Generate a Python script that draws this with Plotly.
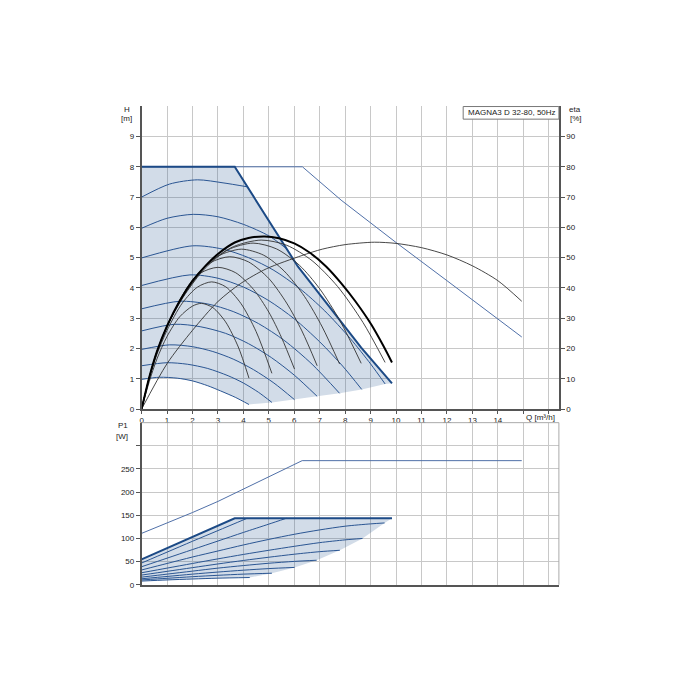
import plotly.graph_objects as go

# ---------------- data ----------------
# Upper chart: head H [m] vs flow Q [m3/h]
max_q = [0, 3.66, 4.9, 6.14, 6.8, 7.71, 8.63, 9.84]
max_h = [8.0, 8.0, 6.35, 4.71, 4.0, 3.02, 2.03, 0.85]

thin_q = [0, 6.32, 7.84, 10.0, 12.0, 14.0, 14.94]
thin_h = [8.0, 8.0, 6.9, 5.5, 4.24, 2.98, 2.38]

s1_q = [0, 0.7, 1.4, 2.0, 2.6, 3.1, 3.7, 4.22]
s1_h = [0.98, 1.05, 1.02, 0.93, 0.77, 0.6, 0.38, 0.15]
s2_q = [0, 1.0, 1.8, 2.6, 3.4, 4.0, 4.6, 5.12]
s2_h = [1.43, 1.53, 1.48, 1.34, 1.1, 0.86, 0.55, 0.22]
s3_q = [0, 1.1, 2.0, 2.8, 3.6, 4.4, 5.2, 6.01]
s3_h = [1.97, 2.12, 2.06, 1.9, 1.65, 1.3, 0.86, 0.31]
s4_q = [0, 1.3, 2.3, 3.3, 4.2, 5.1, 6.0, 6.9]
s4_h = [2.58, 2.8, 2.72, 2.5, 2.16, 1.7, 1.12, 0.42]
s5_q = [0, 1.5, 2.6, 3.6, 4.6, 5.6, 6.7, 7.78]
s5_h = [3.31, 3.56, 3.47, 3.22, 2.82, 2.27, 1.48, 0.52]
s6_q = [0, 1.9, 3.0, 4.0, 5.0, 6.0, 7.0, 7.9, 8.65]
s6_h = [4.08, 4.43, 4.32, 4.03, 3.58, 2.98, 2.22, 1.42, 0.65]
s7_q = [0, 2.0, 3.2, 4.2, 5.2, 6.2, 7.2, 8.2, 9.0, 9.57]
s7_h = [4.99, 5.39, 5.28, 5.0, 4.58, 3.99, 3.24, 2.33, 1.49, 0.83]
s8_q = [0, 1.0, 2.03, 3.0, 4.0, 5.0, 5.69]
s8_h = [5.97, 6.3, 6.43, 6.35, 6.1, 5.72, 5.3]
s9_q = [0, 1.1, 2.2, 3.2, 4.15]
s9_h = [7.0, 7.43, 7.57, 7.47, 7.34]

# efficiency eta [%]
e1_q = [0, 0.3, 0.6, 1.0, 1.5, 2.0, 2.35, 2.8, 3.3, 3.8, 4.22]
e1_v = [0, 9, 16.5, 24, 30.5, 34, 34.9, 33.5, 28.8, 20.5, 10.2]
e2_q = [0, 0.3, 0.6, 1.0, 1.6, 2.2, 2.75, 3.3, 3.9, 4.5, 5.12]
e2_v = [0, 10, 18, 26, 35, 40.3, 42, 40.4, 34.9, 25.6, 11.8]
e3_q = [0, 0.3, 0.6, 1.0, 1.6, 2.3, 3.0, 3.7, 4.4, 5.0, 5.5, 6.01]
e3_v = [0, 10.2, 18.5, 27, 37.5, 44.8, 46.8, 45, 39.5, 32, 23.6, 13.2]
e4_q = [0, 0.3, 0.6, 1.0, 1.9, 2.7, 3.46, 4.2, 5.0, 5.7, 6.3, 6.9]
e4_v = [0, 10.3, 18.7, 27.2, 41.5, 48.3, 50.3, 48.6, 43.1, 35, 25.8, 14.3]
e5_q = [0, 0.3, 0.6, 1.0, 1.5, 2.2, 3.0, 3.92, 4.8, 5.6, 6.4, 7.1, 7.78]
e5_v = [0, 10.4, 18.8, 27.3, 35.5, 44.5, 50.5, 52.8, 50.8, 45.6, 37.2, 27.1, 14.9]
e6_q = [0, 0.3, 0.6, 1.0, 1.7, 2.5, 3.4, 4.38, 5.3, 6.2, 7.0, 7.8, 8.63]
e6_v = [0, 10.4, 18.9, 27.4, 37.8, 46.5, 52.6, 54.8, 52.9, 47.5, 39.7, 29.1, 15.1]
e7_q = [0, 0.3, 0.6, 1.0, 1.7, 2.6, 3.6, 4.7, 5.7, 6.7, 7.7, 8.7, 9.57]
e7_v = [0, 10.5, 19, 27.5, 38, 47.8, 53.6, 55.8, 54.1, 49, 40.5, 28.6, 15.4]
emax_q = [0, 0.3, 0.6, 1.0, 1.5, 2.0, 2.5, 3.0, 3.66, 4.2, 4.84, 5.4, 6.0, 6.6,
          7.25, 7.84, 8.4, 9.02, 9.5, 9.84]
emax_v = [0, 10.5, 19, 27.5, 35.8, 42.3, 47.2, 51.2, 55, 56.5, 57, 56.4, 54.7, 51.7,
          47.1, 41.6, 35.6, 28, 20.9, 15.4]
ethin_q = [0, 1.0, 2.0, 3.0, 3.9, 4.9, 6.3, 7.1, 8.0, 9.15, 10.0, 11.0, 12.0, 13.0,
           14.0, 14.94]
ethin_v = [0, 15, 26, 35.5, 41.5, 46.3, 50.7, 52.8, 54.3, 55.1, 54.7, 53.3, 50.9, 47.3,
           42.4, 35.6]

# Lower chart: power P1 [W]
pmax_q = [0, 1, 2, 3, 3.66, 9.84]
pmax_p = [55, 79.5, 104, 128, 143.6, 143.6]
pthin_q = [0, 1, 2, 3, 4.05, 5.0, 6.31, 14.94]
pthin_p = [111, 133, 156, 180, 208, 233, 268, 268]

p1_q = [0, 1, 2, 3, 4.25]
p1_p = [8, 10.5, 12.5, 14.3, 15.7]
p2_q = [0, 1, 2, 3, 4, 5.12]
p2_p = [10.5, 14, 17.5, 20.5, 23, 25]
p3_q = [0, 1, 2, 3, 4, 5, 6.01]
p3_p = [13, 18, 23, 27.5, 31.5, 35, 37.5]
p4_q = [0, 1, 2, 3, 4, 5, 6, 6.88]
p4_p = [16.5, 23, 29.5, 36, 41.5, 46.5, 50.5, 53]
p5_q = [0, 1, 2, 3, 4, 5, 6, 7, 7.79]
p5_p = [21, 29, 37, 45, 52.5, 59.5, 66, 71.5, 74.5]
p6_q = [0, 1, 2, 3, 4, 5, 6, 7, 8, 8.68]
p6_p = [26, 36, 46, 56, 65.5, 74.5, 83, 91, 97, 100]
p7_q = [0, 1, 2, 3, 4, 5, 6, 7, 8, 9, 9.55]
p7_p = [32, 46, 60, 73, 86, 98, 109, 118.5, 126.5, 131.5, 133.5]
p8_q = [0, 1, 2, 3, 4, 5, 5.69]
p8_p = [39, 57.5, 76, 94.5, 113, 131, 143.6]
p9_q = [0, 1, 2, 3, 4.15]
p9_p = [47, 70.5, 94, 117, 143.6]

x_ticks = list(range(0, 17))
x_labels = [str(i) for i in range(0, 15)] + ["", ""]
h_ticks = list(range(0, 10))
eta_ticks = list(range(0, 100, 10))
p_ticks = [0, 50, 100, 150, 200, 250, 300]
p_labels = ["0", "50", "100", "150", "200", "250", ""]

title_text = "MAGNA3 D 32-80, 50Hz"

# ---------------- styling ----------------
FONT = "Liberation Sans, Arial, sans-serif"
SHADE = "rgba(30,80,140,0.2)"
DARK_BLUE = "#1c4a86"
SPEED_BLUE = "#2a5592"
THIN_BLUE = "#5070a8"
GRID = "#c8c8c8"
AXIS = "#555555"

speed_q = [s1_q, s2_q, s3_q, s4_q, s5_q, s6_q, s7_q]
speed_h = [s1_h, s2_h, s3_h, s4_h, s5_h, s6_h, s7_h]
pow_q = [p1_q, p2_q, p3_q, p4_q, p5_q, p6_q, p7_q]
pow_p = [p1_p, p2_p, p3_p, p4_p, p5_p, p6_p, p7_p]

fig = go.Figure()

# shaded operating area (upper)
bq = [q[-1] for q in speed_q] + [max_q[-1]]
bh = [h[-1] for h in speed_h] + [max_h[-1]]
area_q = max_q + bq[::-1] + s1_q[::-1]
area_h = max_h + bh[::-1] + s1_h[::-1]
fig.add_trace(go.Scatter(x=area_q, y=area_h, fill="toself", fillcolor=SHADE,
                         mode="lines", line=dict(width=0), hoverinfo="skip",
                         xaxis="x", yaxis="y"))

# shaded area (lower)
lq = [q[-1] for q in pow_q] + [pmax_q[-1]]
lp = [p[-1] for p in pow_p] + [pmax_p[-1]]
areap_q = pmax_q + lq[::-1] + p1_q[::-1]
areap_p = pmax_p + lp[::-1] + p1_p[::-1]
fig.add_trace(go.Scatter(x=areap_q, y=areap_p, fill="toself", fillcolor=SHADE,
                         mode="lines", line=dict(width=0), hoverinfo="skip",
                         xaxis="x2", yaxis="y2"))

# speed curves (upper)
for q, h in zip(speed_q + [s8_q, s9_q], speed_h + [s8_h, s9_h]):
    fig.add_trace(go.Scatter(x=q, y=h, mode="lines",
                             line=dict(color=SPEED_BLUE, width=1, shape="spline", smoothing=0.8),
                             xaxis="x", yaxis="y"))
fig.add_trace(go.Scatter(x=thin_q, y=thin_h, mode="lines",
                         line=dict(color=THIN_BLUE, width=1), xaxis="x", yaxis="y"))
fig.add_trace(go.Scatter(x=max_q, y=max_h, mode="lines",
                         line=dict(color=DARK_BLUE, width=2), xaxis="x", yaxis="y"))

# efficiency curves
for q, v in [(e1_q, e1_v), (e2_q, e2_v), (e3_q, e3_v), (e4_q, e4_v),
             (e5_q, e5_v), (e6_q, e6_v), (e7_q, e7_v), (ethin_q, ethin_v)]:
    fig.add_trace(go.Scatter(x=q, y=v, mode="lines",
                             line=dict(color="#333333", width=0.9, shape="spline", smoothing=0.8),
                             xaxis="x", yaxis="y3"))
fig.add_trace(go.Scatter(x=emax_q, y=emax_v, mode="lines",
                         line=dict(color="#000000", width=2, shape="spline", smoothing=0.8),
                         xaxis="x", yaxis="y3"))

# power curves (lower)
for q, p in zip(pow_q + [p8_q, p9_q], pow_p + [p8_p, p9_p]):
    fig.add_trace(go.Scatter(x=q, y=p, mode="lines",
                             line=dict(color=SPEED_BLUE, width=1, shape="spline", smoothing=0.8),
                             xaxis="x2", yaxis="y2"))
fig.add_trace(go.Scatter(x=pthin_q, y=pthin_p, mode="lines",
                         line=dict(color=THIN_BLUE, width=1), xaxis="x2", yaxis="y2"))
fig.add_trace(go.Scatter(x=pmax_q, y=pmax_p, mode="lines",
                         line=dict(color=DARK_BLUE, width=2), xaxis="x2", yaxis="y2"))

XD = [140 / 700, 558.5 / 700]
tickfont = dict(family=FONT, size=8, color="#222222")
common_x = dict(range=[0, 16.4], tickvals=x_ticks, showgrid=True, gridcolor=GRID,
                gridwidth=1.2, zeroline=False, showline=True, linecolor=AXIS, linewidth=1.5,
                tickfont=tickfont, domain=XD, fixedrange=True)

fig.update_layout(
    width=700, height=700, margin=dict(l=0, r=0, t=0, b=0),
    paper_bgcolor="white", plot_bgcolor="white", showlegend=False,
    font=dict(family=FONT, size=8, color="#222222"),
    xaxis=dict(common_x, anchor="y", ticktext=x_labels, ticks="outside", ticklen=3,
               tickcolor=AXIS),
    yaxis=dict(domain=[1 - 412 / 700, 1 - 107 / 700], range=[0, 10], tickvals=h_ticks,
               showgrid=True, gridcolor=GRID, gridwidth=1.2, zeroline=False, showline=True,
               linecolor=AXIS, linewidth=1.5, ticks="outside", ticklen=4, tickcolor=AXIS,
               tickfont=tickfont, anchor="x", fixedrange=True),
    yaxis3=dict(overlaying="y", side="right", range=[0, 100], tickvals=eta_ticks,
                showgrid=False, zeroline=False, showline=True, linecolor=AXIS, linewidth=1.5,
                ticks="outside", ticklen=4, tickcolor=AXIS, tickfont=tickfont, anchor="x",
                fixedrange=True),
    xaxis2=dict(common_x, anchor="y2", showticklabels=False, ticks=""),
    yaxis2=dict(domain=[1 - 589 / 700, 1 - 425.7 / 700], range=[0, 350], tickvals=p_ticks,
                ticktext=p_labels, showgrid=True, gridcolor=GRID, gridwidth=1.2,
                zeroline=False, showline=True, linecolor=AXIS, linewidth=1.5,
                ticks="outside", ticklen=4, tickcolor=AXIS, tickfont=tickfont,
                anchor="x2", fixedrange=True),
)

# lower chart top and right border
fig.add_shape(type="line", xref="x2 domain", yref="y2 domain", x0=0, x1=1, y0=1, y1=1,
              line=dict(color="#aaaaaa", width=1))
fig.add_shape(type="line", xref="x2 domain", yref="y2 domain", x0=1, x1=1, y0=0, y1=1,
              line=dict(color="#aaaaaa", width=1))

# title box
fig.add_shape(type="rect", xref="paper", yref="paper", x0=462.5 / 700, x1=558.5 / 700,
              y0=1 - 120 / 700, y1=1 - 107.3 / 700, line=dict(color="#777777", width=1),
              fillcolor="white")
fig.add_annotation(text=title_text, xref="paper", yref="paper", x=465 / 700,
                   y=1 - 113.8 / 700, xanchor="left", yanchor="middle", showarrow=False,
                   font=dict(family=FONT, size=8, color="#222222"))


def label(txt, px, py):
    fig.add_annotation(text=txt, xref="paper", yref="paper", x=px / 700, y=1 - py / 700,
                       xanchor="center", yanchor="middle", showarrow=False,
                       font=dict(family=FONT, size=8, color="#222222"))


label("H", 125, 110)
label("[m]", 125, 119)
label("eta", 575, 110)
label("[%]", 575.5, 119)
label("P1", 121, 429)
label("[W]", 120.5, 440)
label("Q [m³/h]", 540, 420)

fig.write_html("out.html", config={"displayModeBar": False},
               post_script="document.body.style.margin='0px';")
